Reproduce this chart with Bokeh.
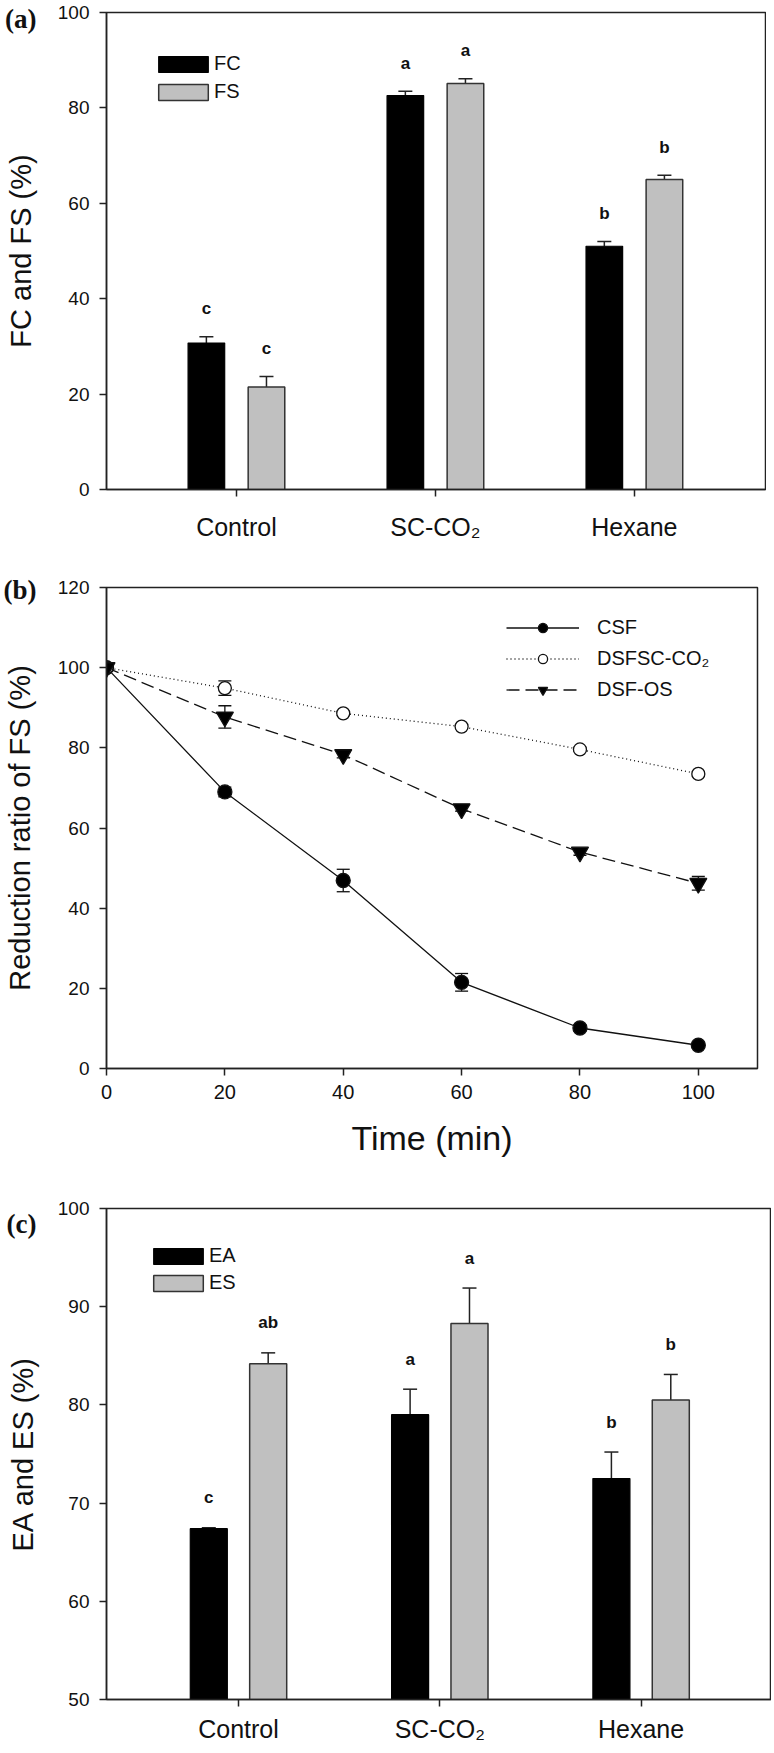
import numpy as np
from bokeh.plotting import figure
from bokeh.models import (ColumnDataSource, FixedTicker, Whisker, TeeHead, Legend,
                          LegendItem, Range1d, LinearAxis)
from bokeh.layouts import column
from bokeh.embed import file_html
from bokeh.resources import INLINE
from bokeh.core.properties import value

# ---------------- data ----------------
categories = ["Control", "SC-CO\u2082", "Hexane"]

# panel (a)
fc = [30.7, 82.6, 51.0]
fc_err = [1.3, 0.9, 1.0]
fs = [21.5, 85.1, 65.0]
fs_err = [2.2, 1.0, 0.9]
fc_letters = ["c", "a", "b"]
fs_letters = ["c", "a", "b"]

# panel (b)
time_min = [0, 20, 40, 60, 80, 100]
csf = [100.0, 69.0, 46.9, 21.5, 10.1, 5.8]
csf_err = [0.8, 1.2, 2.8, 2.2, 0.8, 0.8]
dsfsc = [100.0, 94.9, 88.6, 85.3, 79.6, 73.5]
dsfsc_err = [0.5, 1.8, 0.5, 0.5, 0.5, 0.5]
dsfos = [100.0, 87.7, 78.3, 64.8, 54.0, 46.2]
dsfos_err = [0.5, 2.8, 0.8, 0.6, 0.8, 1.7]

# panel (c)
ea = [67.4, 79.0, 72.5]
ea_err = [0.1, 2.6, 2.7]
es = [84.2, 88.3, 80.5]
es_err = [1.1, 3.6, 2.6]
ea_letters = ["c", "a", "b"]
es_letters = ["ab", "a", "b"]

FONT = "Liberation Sans"
SERIF = "Liberation Serif"
AX = "#222222"
TXT = "#111111"
GRAY = "#c0c0c0"


def style(p, xfont="25px", yfont="19px"):
    p.outline_line_color = AX
    p.outline_line_width = 1.5
    p.xgrid.visible = False
    p.ygrid.visible = False
    for ax in (p.xaxis[0], p.yaxis[0]):
        ax.axis_line_color = AX
        ax.axis_line_width = 1.5
        ax.major_tick_line_color = AX
        ax.major_tick_line_width = 1.5
        ax.major_tick_out = 7
        ax.major_tick_in = 0
        ax.minor_tick_line_color = None
        ax.major_label_text_font = FONT
        ax.major_label_text_color = TXT
        ax.axis_label_text_font = FONT
        ax.axis_label_text_font_style = "normal"
        ax.axis_label_text_color = TXT
    p.yaxis[0].major_label_text_font_size = yfont
    p.yaxis[0].major_label_standoff = 10
    p.xaxis[0].major_label_text_font_size = xfont


def add_tag(p, txt, yv, ylab):
    # outer left axis: carries the panel tag "(x)" as its only tick label and the y title
    ax = LinearAxis(ticker=FixedTicker(ticks=[yv]), major_label_overrides={yv: txt},
                    axis_line_color=None, major_tick_line_color=None,
                    minor_tick_line_color=None, major_tick_out=0, major_tick_in=0,
                    major_label_standoff=18, major_label_text_font=SERIF,
                    major_label_text_font_style="bold", major_label_text_font_size="27px",
                    major_label_text_color=TXT, axis_label=ylab, axis_label_standoff=-35,
                    axis_label_text_font=FONT, axis_label_text_font_size="29px",
                    axis_label_text_font_style="normal", axis_label_text_color=TXT)
    p.add_layout(ax, "left")


def bar_panel(v1, e1, l1, v2, e2, l2, n1, n2, ylab, yr, yticks, xr, off, bw,
              fw, fh, mbt, mbb, tg, tag_y, leg_loc, leg_sp, let_dy, xstand):
    p = figure(frame_width=fw, frame_height=fh, x_range=Range1d(*xr),
               y_range=Range1d(*yr), output_backend="svg", toolbar_location=None,
               min_border_left=98, min_border_right=3, min_border_top=mbt,
               min_border_bottom=mbb)
    idx = np.arange(len(categories))
    s1 = ColumnDataSource(dict(x=idx - off, top=v1, upper=np.add(v1, e1), lab=l1))
    s2 = ColumnDataSource(dict(x=idx + off, top=v2, upper=np.add(v2, e2), lab=l2))
    for s in (s1, s2):
        p.add_layout(Whisker(base="x", lower="top", upper="upper", source=s,
                             dimension="height", line_color=AX, line_width=1.5,
                             upper_head=TeeHead(size=14, line_color=AX, line_width=1.5),
                             lower_head=None))
    r1 = p.vbar(x="x", top="top", bottom=yr[0], width=bw, source=s1,
                fill_color="black", line_color="black", line_width=1.2)
    r2 = p.vbar(x="x", top="top", bottom=yr[0], width=bw, source=s2,
                fill_color=GRAY, line_color="#333333", line_width=1.5)
    for s in (s1, s2):
        p.text(x="x", y="upper", text="lab", source=s, text_font=value(FONT),
               text_font_style="bold", text_font_size="17px", text_align="center",
               text_baseline="middle", y_offset=let_dy, text_color=TXT)
    leg = Legend(items=[LegendItem(label=n1, renderers=[r1]),
                        LegendItem(label=n2, renderers=[r2])],
                 location=leg_loc, orientation="vertical", glyph_width=62,
                 glyph_height=20, label_height=23, spacing=leg_sp, padding=0,
                 margin=0, label_standoff=0, border_line_alpha=0,
                 background_fill_alpha=0, label_text_font=FONT,
                 label_text_font_size="20px", label_text_baseline="middle",
                 label_text_color=TXT)
    p.add_layout(leg)
    style(p)
    p.xaxis[0].ticker = FixedTicker(ticks=list(range(len(categories))))
    p.xaxis[0].major_label_overrides = {i: c for i, c in enumerate(categories)}
    p.xaxis[0].major_label_standoff = xstand
    p.yaxis[0].ticker = FixedTicker(ticks=yticks)
    add_tag(p, tg, tag_y, ylab)
    return p


pa = bar_panel(fc, fc_err, fc_letters, fs, fs_err, fs_letters, "FC", "FS",
               "FC and FS (%)", (0, 100), [0, 20, 40, 60, 80, 100],
               (-0.653, 2.659), 0.151, 0.184, 659, 477, 12, 63, "(a)", 100,
               (46, 386), 5, -28, 16)

pc = bar_panel(ea, ea_err, ea_letters, es, es_err, es_letters, "EA", "ES",
               "EA and ES (%)", (50, 100), [50, 60, 70, 80, 90, 100],
               (-0.6557, 2.6478), 0.1475, 0.184, 665, 491, 16, 38, "(c)", 98.4,
               (41, 405), 4, -30, 8)

# ---------------- panel (b) ----------------
pb = figure(frame_width=651, frame_height=481, x_range=Range1d(0, 110),
            y_range=Range1d(0, 120), output_backend="svg", toolbar_location=None,
            min_border_left=98, min_border_right=3, min_border_top=35,
            min_border_bottom=124)
series = [
    ("CSF", csf, csf_err, "solid", "circle", 14, "black"),
    ("DSFSC-CO\u2082", dsfsc, dsfsc_err, "1 3", "circle", 13, "white"),
    ("DSF-OS", dsfos, dsfos_err, "13 6", "inverted_triangle", 17, "black"),
]
drawn = []
for name, ys, es_, dash, mk, sz, fill in series:
    src = ColumnDataSource(dict(x=time_min, y=ys, lo=np.subtract(ys, es_),
                                hi=np.add(ys, es_)))
    lr = pb.line("x", "y", source=src, line_color=TXT, line_width=1.3,
                 line_dash=dash)
    pb.add_layout(Whisker(base="x", lower="lo", upper="hi", source=src,
                          dimension="height", line_color=TXT, line_width=1.3,
                          upper_head=TeeHead(size=13, line_color=TXT, line_width=1.3),
                          lower_head=TeeHead(size=13, line_color=TXT, line_width=1.3),
                          level="underlay"))
    drawn.append((name, lr, src, mk, sz, fill))
items = []
for name, lr, src, mk, sz, fill in drawn:
    sr = pb.scatter("x", "y", source=src, marker=mk, size=sz, fill_color=fill,
                    line_color=TXT, line_width=1.3)
    items.append(LegendItem(label=name, renderers=[lr, sr]))
legb = Legend(items=items, location=(400, 367), orientation="vertical",
              glyph_width=73, glyph_height=23, label_height=23, spacing=8,
              padding=0, margin=0, label_standoff=18, border_line_alpha=0,
              background_fill_alpha=0, label_text_font=FONT,
              label_text_font_size="20px", label_text_baseline="middle",
              label_text_color=TXT)
pb.add_layout(legb)
style(pb, xfont="20px")
pb.xaxis[0].ticker = FixedTicker(ticks=time_min)
pb.xaxis[0].major_label_standoff = 9
pb.xaxis[0].axis_label = "Time (min)"
pb.xaxis[0].axis_label_text_font_size = "34px"
pb.xaxis[0].axis_label_standoff = 17
pb.yaxis[0].ticker = FixedTicker(ticks=[0, 20, 40, 60, 80, 100, 120])
add_tag(pb, "(b)", 119.5, "Reduction ratio of FS (%)")

layout = column(pa, pb, pc, spacing=0)
open("out.html", "w").write(file_html(layout, INLINE))
